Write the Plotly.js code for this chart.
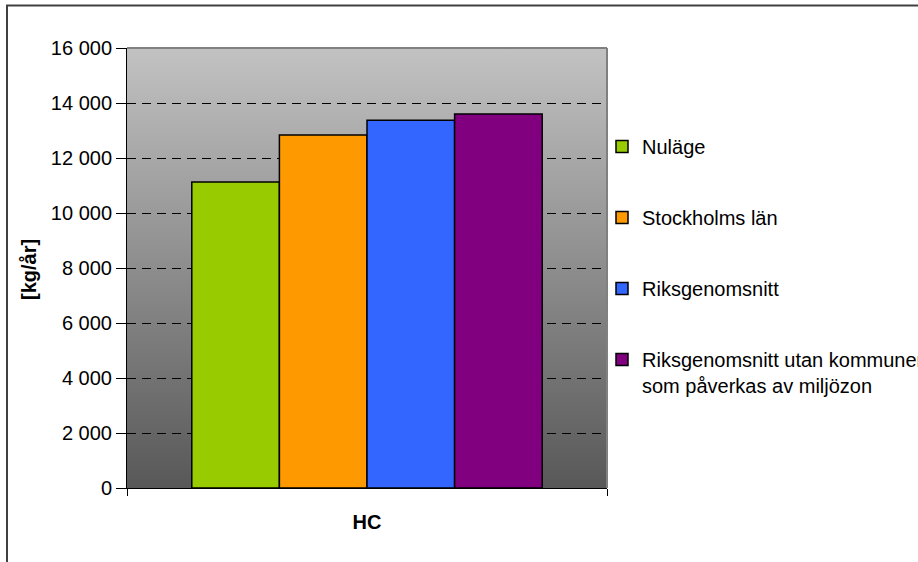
<!DOCTYPE html>
<html>
<head>
<meta charset="utf-8">
<script src="https://cdn.plot.ly/plotly-3.0.1.min.js"></script>
<style>
  html, body { margin: 0; padding: 0; background: #ffffff; }
  #chart { width: 918px; height: 562px; }
</style>
</head>
<body>
<div id="chart"></div>
<script>
// Emissions of HC per scenario, kg per year
const categories = ['HC'];
const seriesNames = [
  'Nuläge',
  'Stockholms län',
  'Riksgenomsnitt',
  'Riksgenomsnitt utan kommuner<br>som påverkas av miljözon'
];
const nulage = [11130];
const stockholmsLan = [12840];
const riksgenomsnitt = [13370];
const riksUtanMiljozon = [13600];
const seriesValues = [nulage, stockholmsLan, riksgenomsnitt, riksUtanMiljozon];
const seriesColors = ['#99CC00', '#FF9900', '#3366FF', '#800080'];
const yTickValues = [0, 2000, 4000, 6000, 8000, 10000, 12000, 14000, 16000];
const yTitle = '[kg/år]';

const FONT = 'Liberation Sans, Arial, sans-serif';

// plot area geometry in pixels
const W = 918, H = 562;
const M = { l: 127, r: 311, t: 48, b: 74, autoexpand: false };
const PW = W - M.l - M.r, PH = H - M.t - M.b;
const px = x => (x - M.l) / PW;          // page x -> paper x
const py = y => (H - M.b - y) / PH;      // page y -> paper y

const traces = seriesNames.map((name, i) => ({
  type: 'bar',
  name: name,
  x: categories,
  y: seriesValues[i],
  legendgroup: 'g' + i,
  marker: { color: seriesColors[i], line: { color: '#000000', width: 1.5 } },
  hoverinfo: 'skip'
}));

// vertical grey gradient behind the bars
const gradSvg =
  '<svg xmlns="http://www.w3.org/2000/svg" width="100" height="100" preserveAspectRatio="none">' +
  '<defs><linearGradient id="g" x1="0" y1="0" x2="0" y2="1">' +
  '<stop offset="0" stop-color="#c2c2c2"/><stop offset="1" stop-color="#585858"/>' +
  '</linearGradient></defs><rect width="100" height="100" fill="url(#g)"/></svg>';
const gradSrc = 'data:image/svg+xml;charset=utf-8,' + encodeURIComponent(gradSvg);

const layout = {
  width: W, height: H,
  margin: M,
  paper_bgcolor: '#ffffff',
  plot_bgcolor: 'rgba(0,0,0,0)',
  separators: ', ',
  font: { family: FONT, size: 20, color: '#000000' },
  barmode: 'group',
  bargap: 0.27,
  bargroupgap: 0,
  showlegend: true,
  legend: {
    x: px(602), y: py(127), xanchor: 'left', yanchor: 'top',
    font: { family: FONT, size: 20, color: '#000000' },
    bgcolor: 'rgba(0,0,0,0)',
    traceorder: 'grouped',
    tracegroupgap: 42,
    valign: 'top'
  },
  xaxis: {
    type: 'category',
    range: [-0.5, 0.5],
    showgrid: false,
    zeroline: false,
    showline: true, linecolor: '#000000', linewidth: 1,
    ticks: 'outside', tickson: 'boundaries', ticklen: 7, tickcolor: '#000000',
    ticklabelstandoff: 16,
    tickfont: { family: FONT, size: 20, color: '#000000', weight: 'bold' },
    fixedrange: true
  },
  yaxis: {
    range: [0, 16000],
    tickvals: yTickValues,
    tickformat: ',d',
    separatethousands: true,
    showgrid: true, gridcolor: '#000000', gridwidth: 1, griddash: '9px,6px',
    zeroline: false,
    showline: true, linecolor: '#000000', linewidth: 1,
    ticks: 'outside', ticklen: 10, tickcolor: '#000000',
    tickfont: { family: FONT, size: 20, color: '#000000' },
    fixedrange: true
  },
  annotations: [{
    // y axis title
    text: yTitle, textangle: -90, showarrow: false,
    xref: 'paper', yref: 'paper', x: px(29), y: py(270),
    xanchor: 'center', yanchor: 'middle',
    font: { family: FONT, size: 20, color: '#000000', weight: 'bold' }
  }],
  images: [{
    source: gradSrc,
    xref: 'paper', yref: 'paper',
    x: 0, y: 1, sizex: 1, sizey: 1,
    xanchor: 'left', yanchor: 'top',
    sizing: 'stretch', layer: 'below'
  }],
  shapes: [
    // grey frame on the top and right of the plot area
    { type: 'line', xref: 'paper', yref: 'paper', x0: 0, x1: 1, y0: 1, y1: 1,
      line: { color: '#808080', width: 2 } },
    { type: 'line', xref: 'paper', yref: 'paper', x0: 1, x1: 1, y0: 0, y1: 1,
      line: { color: '#808080', width: 2 } },
    // outer chart frame
    { type: 'rect', xref: 'paper', yref: 'paper',
      x0: px(7), x1: px(930), y0: py(575), y1: py(5.5),
      line: { color: '#404040', width: 2 }, fillcolor: 'rgba(0,0,0,0)' }
  ]
};

Plotly.newPlot('chart', traces, layout, { displayModeBar: false, staticPlot: true });
</script>
</body>
</html>
